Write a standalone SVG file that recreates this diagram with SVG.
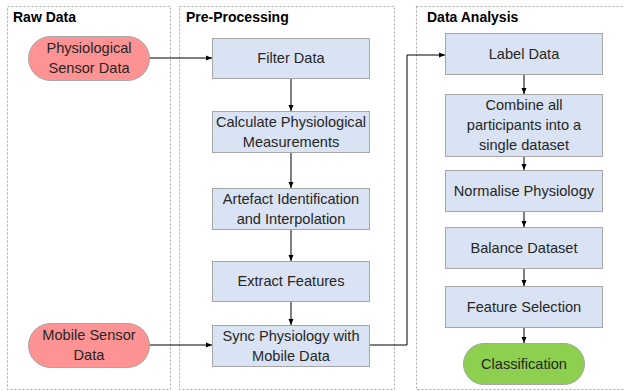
<svg xmlns="http://www.w3.org/2000/svg" width="624" height="391" viewBox="0 0 624 391">
<style>
.panel{fill:none;stroke:#a6a6a6;stroke-width:1;stroke-dasharray:2,2}
.title{font-family:"Liberation Sans",Arial,sans-serif;font-size:14px;font-weight:bold;fill:#000}
.box{fill:#dae3f3;stroke:#a6a6a6;stroke-width:1}
.red{fill:#ff9393;stroke:#a6a6a6;stroke-width:1}
.green{fill:#8dcf4f;stroke:#a6a6a6;stroke-width:1}
.t{font-family:"Liberation Sans",Arial,sans-serif;font-size:14.6px;fill:#262626;text-anchor:middle;dominant-baseline:central}
.c{fill:none;stroke:#000;stroke-width:1}
</style>
<defs>
<marker id="ah" markerWidth="6" markerHeight="6" refX="6" refY="3" orient="auto" markerUnits="userSpaceOnUse">
<path d="M0,0.5 L6,3 L0,5.5 Z" fill="#000"/>
</marker>
</defs>
<g id="panels">
<rect class="panel" x="7.5" y="6.5" width="163" height="383"/>
<text class="title" x="13" y="22">Raw Data</text>
<rect class="panel" x="179.5" y="6.5" width="215" height="383"/>
<text class="title" x="186" y="22">Pre-Processing</text>
<rect class="panel" x="416.5" y="6.5" width="220" height="383"/>
<text class="title" x="427" y="22">Data Analysis</text>
</g>
<g id="connectors">
<path class="c" d="M149,58 H212" marker-end="url(#ah)"/>
<path class="c" d="M149,345 H212" marker-end="url(#ah)"/>
<path class="c" d="M291,78 V111" marker-end="url(#ah)"/>
<path class="c" d="M291,152 V188" marker-end="url(#ah)"/>
<path class="c" d="M291,229 V261" marker-end="url(#ah)"/>
<path class="c" d="M291,301 V325" marker-end="url(#ah)"/>
<path class="c" d="M369,345 H407 V55 H445" marker-end="url(#ah)"/>
<path class="c" d="M524,74 V94" marker-end="url(#ah)"/>
<path class="c" d="M524,156 V170" marker-end="url(#ah)"/>
<path class="c" d="M524,211 V227" marker-end="url(#ah)"/>
<path class="c" d="M524,268 V286" marker-end="url(#ah)"/>
<path class="c" d="M524,327 V343" marker-end="url(#ah)"/>
</g>
<g id="physio">
<rect class="red" x="28.5" y="36.5" width="121" height="44" rx="22"/>
<text class="t" x="89" y="48">Physiological</text>
<text class="t" x="89" y="68">Sensor Data</text>
</g>
<g id="mobile">
<rect class="red" x="28.5" y="323.5" width="121" height="44" rx="22"/>
<text class="t" x="89" y="335">Mobile Sensor</text>
<text class="t" x="89" y="355">Data</text>
</g>
<g id="filter">
<rect class="box" x="212.5" y="38.5" width="157" height="40"/>
<text class="t" x="291" y="58">Filter Data</text>
</g>
<g id="calc">
<rect class="box" x="212.5" y="111.5" width="157" height="41"/>
<text class="t" x="291" y="122">Calculate Physiological</text>
<text class="t" x="291" y="142">Measurements</text>
</g>
<g id="artefact">
<rect class="box" x="212.5" y="188.5" width="157" height="41"/>
<text class="t" x="291" y="199">Artefact Identification</text>
<text class="t" x="291" y="219">and Interpolation</text>
</g>
<g id="extract">
<rect class="box" x="212.5" y="261.5" width="157" height="40"/>
<text class="t" x="291" y="281">Extract Features</text>
</g>
<g id="sync">
<rect class="box" x="212.5" y="325.5" width="157" height="41"/>
<text class="t" x="291" y="336">Sync Physiology with</text>
<text class="t" x="291" y="356">Mobile Data</text>
</g>
<g id="label">
<rect class="box" x="445.5" y="33.5" width="157" height="41"/>
<text class="t" x="524" y="54">Label Data</text>
</g>
<g id="combine">
<rect class="box" x="445.5" y="94.5" width="157" height="62"/>
<text class="t" x="524" y="105">Combine all</text>
<text class="t" x="524" y="125">participants into a</text>
<text class="t" x="524" y="145">single dataset</text>
</g>
<g id="normalise">
<rect class="box" x="445.5" y="170.5" width="157" height="41"/>
<text class="t" x="524" y="191">Normalise Physiology</text>
</g>
<g id="balance">
<rect class="box" x="445.5" y="227.5" width="157" height="41"/>
<text class="t" x="524" y="248">Balance Dataset</text>
</g>
<g id="featsel">
<rect class="box" x="445.5" y="286.5" width="157" height="41"/>
<text class="t" x="524" y="307">Feature Selection</text>
</g>
<g id="classification">
<rect class="green" x="463.5" y="343.5" width="121" height="41" rx="20.5"/>
<text class="t" x="524" y="364">Classification</text>
</g>
</svg>
